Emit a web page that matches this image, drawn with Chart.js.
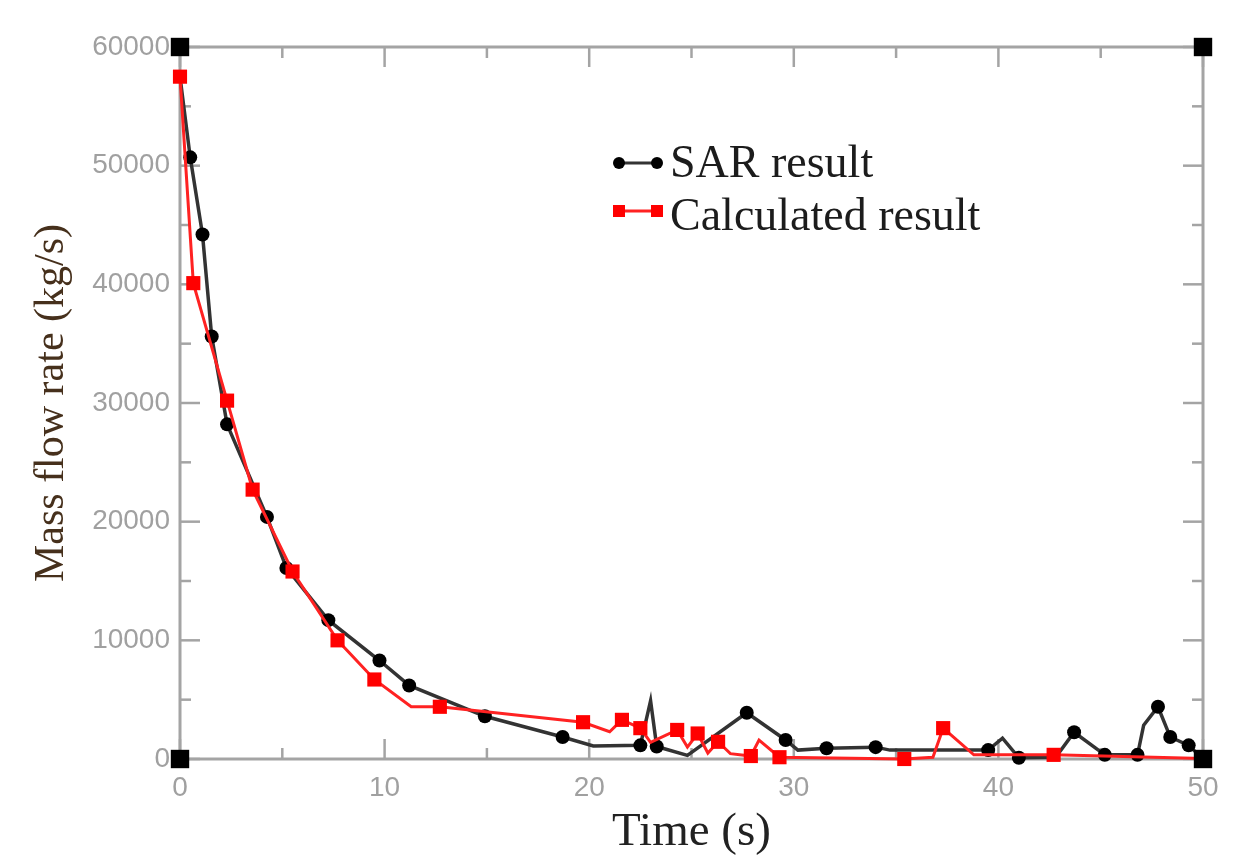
<!DOCTYPE html>
<html>
<head>
<meta charset="utf-8">
<title>Mass flow rate</title>
<script src="https://cdn.jsdelivr.net/npm/chart.js@4/dist/chart.umd.min.js"></script>
<style>
  html, body { margin: 0; padding: 0; background: #fff; }
  #wrap { width: 1235px; height: 858px; }
</style>
</head>
<body>
<div id="wrap"><canvas id="flowChart" width="1235" height="858"></canvas></div>
<script>
// SAR result
const sarTime = [0, 0.5, 1.1, 1.55, 2.3, 4.25, 5.2, 7.25, 9.75, 11.2, 14.9, 18.7, 20.2, 22.5, 23.0, 23.3,
  24.8, 27.7, 29.6, 30.2, 31.6, 34.0, 34.7, 39.5, 40.2, 41.0, 42.8, 43.7, 45.2, 46.8, 47.1, 47.8, 48.4, 49.3, 50];
const sarFlow = [57500, 50700, 44200, 35600, 28200, 20400, 16100, 11700, 8300, 6200, 3600, 1850, 1100, 1150, 4900, 1050,
  300, 3900, 1600, 750, 900, 1000, 750, 750, 1750, 100, 150, 2250, 350, 350, 2850, 4400, 1850, 1150, 0];

// Calculated result
const calcTime = [0, 0.65, 2.3, 3.55, 5.5, 7.7, 9.5, 11.3, 12.7, 19.7, 21.0, 21.6, 22.5, 23.0, 24.3, 24.8,
  25.3, 25.8, 26.3, 26.9, 27.9, 28.3, 29.3, 35.4, 36.8, 37.3, 38.8, 42.7, 50];
const calcFlow = [57500, 40100, 30200, 22700, 15800, 10000, 6700, 4400, 4400, 3100, 2300, 3300, 2600, 1400, 2450, 1000,
  2150, 500, 1450, 450, 250, 1600, 150, 0, 150, 2600, 350, 350, 50];

// axis limits and tick steps
const xRange = [0, 50];
const yRange = [0, 60000];
const xStep = 10;
const yStep = 10000;

// vertices drawn without a marker
const sarBare = new Set([0, 12, 14, 16, 19, 22, 24, 26, 30]);
const calcBare = new Set([7, 10, 13, 15, 17, 19, 21, 24, 26, 28]);

const toPoints = (xs, ys) => xs.map((t, i) => ({ x: t, y: ys[i] }));

Chart.defaults.font.family = 'Liberation Sans';

// box frame with inward ticks on all four sides
const framePlugin = {
  id: 'frame',
  beforeDatasetsDraw(chart) {
    const { ctx, chartArea: a, scales: { x, y } } = chart;
    ctx.save();
    ctx.strokeStyle = '#a4a4a4';
    ctx.lineWidth = 3;
    ctx.strokeRect(a.left, a.top, a.right - a.left, a.bottom - a.top);
    ctx.lineWidth = 2.5;
    const seg = (x1, y1, x2, y2) => { ctx.beginPath(); ctx.moveTo(x1, y1); ctx.lineTo(x2, y2); ctx.stroke(); };
    for (let v = x.min; v <= x.max; v += xStep / 2) {
      const px = x.getPixelForValue(v);
      const len = v % xStep === 0 ? 20 : 11;
      seg(px, a.bottom, px, a.bottom - len);
      seg(px, a.top, px, a.top + len);
    }
    for (let v = y.min; v <= y.max; v += yStep / 2) {
      const py = y.getPixelForValue(v);
      const len = v % yStep === 0 ? 20 : 11;
      seg(a.left, py, a.left + len, py);
      seg(a.right, py, a.right - len, py);
    }
    ctx.restore();
  }
};

// legend: short line with a marker at each end, then the label
const legendPlugin = {
  id: 'lineLegend',
  afterDatasetsDraw(chart) {
    const { ctx, chartArea: a } = chart;
    const rows = [chart.data.datasets[1], chart.data.datasets[0]];
    ctx.save();
    rows.forEach((ds, i) => {
      const yy = a.top + 116 + i * 48;
      const x1 = a.left + 439, x2 = a.left + 477;
      ctx.strokeStyle = ds.borderColor;
      ctx.lineWidth = 3;
      ctx.beginPath(); ctx.moveTo(x1, yy); ctx.lineTo(x2, yy); ctx.stroke();
      ctx.fillStyle = ds.pointBackgroundColor;
      [x1, x2].forEach(px => {
        ctx.beginPath();
        if (ds.pointStyle === 'rect') ctx.rect(px - 6, yy - 6, 12, 12);
        else ctx.arc(px, yy, 6, 0, Math.PI * 2);
        ctx.fill();
      });
      ctx.fillStyle = '#1c1c1c';
      ctx.font = '46px "Liberation Serif"';
      ctx.textBaseline = 'middle';
      ctx.fillText(ds.label, x2 + 13, yy + 2 + i * 5);
    });
    ctx.restore();
  }
};

new Chart(document.getElementById('flowChart'), {
  type: 'line',
  data: {
    datasets: [
      {
        label: 'Calculated result',
        data: toPoints(calcTime, calcFlow),
        borderColor: '#ff2222',
        borderWidth: 3,
        pointStyle: 'rect',
        pointBackgroundColor: '#ff0000',
        pointBorderWidth: 0,
        pointRadius: ctx => calcBare.has(ctx.dataIndex) ? 0 : 10,
        tension: 0,
        clip: false,
        order: 1
      },
      {
        label: 'SAR result',
        data: toPoints(sarTime, sarFlow),
        borderColor: '#333333',
        borderWidth: 3.5,
        pointStyle: 'circle',
        pointBackgroundColor: '#000000',
        pointBorderWidth: 0,
        pointRadius: ctx => sarBare.has(ctx.dataIndex) ? 0 : 7,
        tension: 0,
        clip: false,
        order: 2
      },
      {
        label: 'corners',
        data: [
          { x: xRange[0], y: yRange[1] }, { x: xRange[1], y: yRange[1] },
          { x: xRange[0], y: yRange[0] }, { x: xRange[1], y: yRange[0] }
        ],
        showLine: false,
        pointStyle: 'rect',
        pointBackgroundColor: '#000000',
        pointBorderWidth: 0,
        pointRadius: 13,
        clip: false,
        order: 0
      }
    ]
  },
  options: {
    responsive: false,
    devicePixelRatio: 1,
    animation: false,
    layout: { padding: { top: 47, right: 32, left: 0, bottom: 0 } },
    plugins: { legend: { display: false }, tooltip: { enabled: false } },
    scales: {
      x: {
        type: 'linear',
        min: xRange[0], max: xRange[1],
        grid: { display: false, drawTicks: false },
        border: { display: false },
        ticks: { stepSize: xStep, padding: 12, color: '#a0a0a0', font: { size: 28 }, callback: v => String(v) },
        title: {
          display: true, text: 'Time (s)', color: '#222222',
          font: { family: 'Liberation Serif', size: 47, lineHeight: 1 },
          padding: { top: 0, bottom: 2 }
        },
        afterFit(scale) { scale.height = 99; }
      },
      y: {
        min: yRange[0], max: yRange[1],
        grid: { display: false, drawTicks: false },
        border: { display: false },
        ticks: { stepSize: yStep, padding: 10, color: '#a0a0a0', font: { size: 28 }, callback: v => String(v) },
        title: {
          display: true, text: 'Mass flow rate (kg/s)', color: '#46301c',
          font: { family: 'Liberation Serif', size: 42, lineHeight: 1 },
          padding: { top: 31, bottom: 0 }
        },
        afterFit(scale) { scale.width = 180; }
      }
    }
  },
  plugins: [framePlugin, legendPlugin]
});
</script>
</body>
</html>
